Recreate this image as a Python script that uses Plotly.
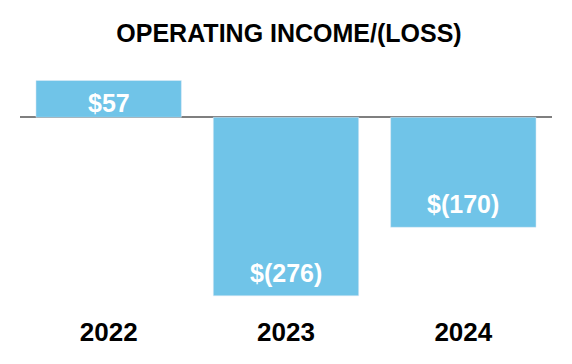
import plotly.graph_objects as go

categories = ["2022", "2023", "2024"]
values = [57, -276, -170]
value_labels = ["$57", "$(276)", "$(170)"]
title_text = "OPERATING INCOME/(LOSS)"

bar_color = "#70C4E8"
font_family = "Liberation Sans"

positions = list(range(len(categories)))

fig = go.Figure()
fig.add_trace(go.Bar(
    x=positions,
    y=values,
    width=0.82,
    marker_color=bar_color,
    hoverinfo="skip",
))

for p, v, lab in zip(positions, values, value_labels):
    base = 0 if v >= 0 else v
    shift = 14 if v >= 0 else 23
    fig.add_annotation(x=p, y=base, text="<b>" + lab + "</b>", showarrow=False,
                       yanchor="middle", yshift=shift,
                       font=dict(family=font_family, size=25, color="white"))

# the page body adds an 8px offset; margins compensate for it
fig.update_layout(
    width=572, height=364,
    margin=dict(l=12, r=28, t=52, b=72),
    paper_bgcolor="white", plot_bgcolor="white",
    showlegend=False,
    title=dict(text="<b>" + title_text + "</b>", x=281 / 572, xanchor="center",
               y=1 - 25 / 364, yanchor="middle",
               font=dict(family=font_family, size=25, color="black")),
    xaxis=dict(range=[-0.5, 2.5], tickmode="array", tickvals=positions,
               ticktext=["<b>" + c + "</b>" for c in categories],
               showgrid=False, showline=False, zeroline=False,
               ticks="outside", ticklen=9, tickcolor="rgba(0,0,0,0)",
               tickfont=dict(family=font_family, size=26, color="black")),
    yaxis=dict(range=[-282.4, 88.6], showgrid=False, showticklabels=False,
               zeroline=True, zerolinecolor="#7F7F7F", zerolinewidth=2,
               showline=False, ticks=""),
)

fig.write_html("out.html")
